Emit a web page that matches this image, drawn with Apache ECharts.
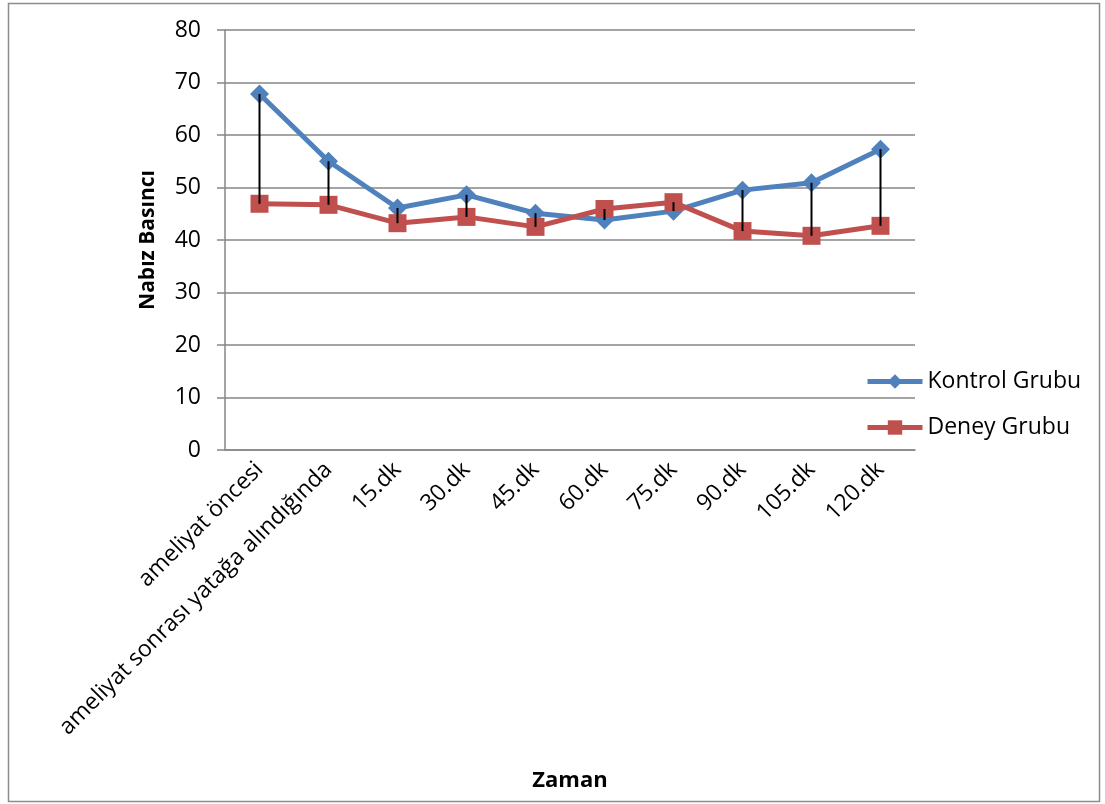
<!DOCTYPE html>
<html>
<head>
<meta charset="utf-8">
<script src="https://cdn.jsdelivr.net/npm/echarts@6/dist/echarts.min.js"></script>
<style>html,body{margin:0;padding:0;background:#fff}#c{width:1105px;height:804px}</style>
</head>
<body>
<div id="c"></div>
<script>
var categories = ['ameliyat öncesi', 'ameliyat sonrası yatağa alındığında', '15.dk', '30.dk', '45.dk', '60.dk', '75.dk', '90.dk', '105.dk', '120.dk'];
var kontrol = [67.8, 55.0, 46.1, 48.6, 45.1, 43.8, 45.5, 49.5, 50.9, 57.3];
var deney = [46.9, 46.7, 43.2, 44.4, 42.5, 45.9, 47.2, 41.7, 40.8, 42.7];
var yTicks = {min: 0, max: 80, interval: 10};

var FONT = '"Open Sans", sans-serif';
var chart = echarts.init(document.getElementById('c'), null, {renderer: 'canvas'});
var hiLo = categories.map(function (c, i) { return [i, kontrol[i], deney[i]]; });

chart.setOption({
  animation: false,
  backgroundColor: '#fff',
  graphic: [{
    type: 'rect', shape: {x: 8.5, y: 3.5, width: 1091, height: 798},
    style: {fill: 'none', stroke: '#8c8c8c', lineWidth: 1.5}, silent: true, z: -10
  }],
  grid: {left: 225, right: 190, top: 30, bottom: 354},
  legend: {
    orient: 'vertical', left: 860, top: 365, itemGap: 23,
    itemWidth: 55, itemHeight: 18,
    lineStyle: {width: 5},
    textStyle: {fontFamily: FONT, fontSize: 23, color: '#000'},
    data: ['Kontrol Grubu', 'Deney Grubu']
  },
  xAxis: {
    type: 'category', data: categories, boundaryGap: true,
    name: 'Zaman', nameLocation: 'middle', nameGap: 320,
    nameTextStyle: {fontFamily: FONT, fontSize: 22, fontWeight: 'bold', color: '#000'},
    axisLine: {lineStyle: {color: '#868686', width: 1.5}},
    axisTick: {show: false},
    axisLabel: {rotate: 45, interval: 0, margin: 16, fontFamily: FONT, fontSize: 23, color: '#000'}
  },
  yAxis: {
    type: 'value', min: yTicks.min, max: yTicks.max, interval: yTicks.interval,
    name: 'Nabız Basıncı', nameLocation: 'middle', nameGap: 66, nameRotate: 90,
    nameTextStyle: {fontFamily: FONT, fontSize: 21, fontWeight: 'bold', color: '#000'},
    axisLine: {show: true, lineStyle: {color: '#868686', width: 1.5}},
    axisTick: {show: true, length: 8, lineStyle: {color: '#868686', width: 1.5}},
    axisLabel: {margin: 24, fontFamily: FONT, fontSize: 23, color: '#000'},
    splitLine: {lineStyle: {color: '#868686', width: 1.5}}
  },
  series: [
    {
      name: 'Kontrol Grubu', type: 'line', data: kontrol,
      symbol: 'diamond', symbolSize: 19,
      lineStyle: {color: '#4F81BD', width: 5},
      itemStyle: {color: '#4F81BD'}, z: 3
    },
    {
      name: 'Deney Grubu', type: 'line', data: deney,
      symbol: 'rect', symbolSize: 18,
      lineStyle: {color: '#C0504D', width: 5},
      itemStyle: {color: '#C0504D'}, z: 4
    },
    {
      name: 'hilo', type: 'custom', data: hiLo, z: 10, silent: true,
      encode: {x: 0, y: [1, 2]},
      renderItem: function (params, api) {
        var a = api.coord([api.value(0), api.value(1)]);
        var b = api.coord([api.value(0), api.value(2)]);
        return {type: 'line', shape: {x1: a[0], y1: a[1], x2: b[0], y2: b[1]},
                style: {stroke: '#000', lineWidth: 2}};
      }
    }
  ]
});
</script>
</body>
</html>
